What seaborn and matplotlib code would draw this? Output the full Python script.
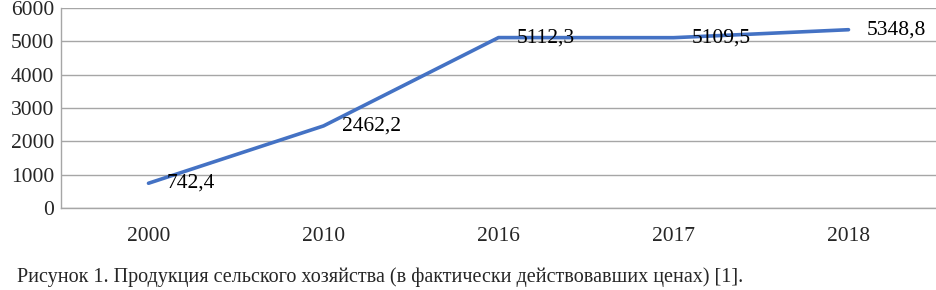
import pandas as pd
import matplotlib.pyplot as plt
import seaborn as sns

# data
years = ['2000', '2010', '2016', '2017', '2018']
values = [742.4, 2462.2, 5112.3, 5109.5, 5348.8]
labels = ['742,4', '2462,2', '5112,3', '5109,5', '5348,8']
caption = 'Рисунок 1. Продукция сельского хозяйства (в фактически действовавших ценах) [1].'

df = pd.DataFrame({'year': years, 'value': values})

sns.set_style('white')
plt.rcParams['font.family'] = ['Liberation Serif', 'DejaVu Serif']

fig = plt.figure(figsize=(9.37, 2.9), dpi=100)
ax = fig.add_axes([61 / 937, 82 / 290, 875 / 937, 200 / 290])

sns.lineplot(data=df, x='year', y='value', ax=ax, color='#4472C4', linewidth=2.6, sort=False)

# data labels to the right of each point
for i, (v, t) in enumerate(zip(values, labels)):
    ax.annotate(t, (i, v), xytext=(13, 0), textcoords='offset points',
                ha='left', va='center', fontsize=15.5, color='black')

ax.set_xlim(-0.5, len(years) - 0.5)
ax.set_ylim(0, 6000)
ax.set_yticks(range(0, 6001, 1000))
ax.yaxis.grid(True, color='#a6a6a6', linewidth=1)
ax.set_axisbelow(True)

ax.set_xticks(range(len(years)))
ax.set_xticks([i - 0.5 for i in range(len(years) + 1)], minor=True)
ax.tick_params(axis='x', which='major', length=0, pad=14, labelsize=15.5)
ax.tick_params(axis='x', which='minor', length=6, color='#a6a6a6', width=1)
ax.tick_params(axis='y', length=0, pad=5, labelsize=15.5)

for s in ['top', 'right']:
    ax.spines[s].set_visible(False)
for s in ['left', 'bottom']:
    ax.spines[s].set_color('#a6a6a6')
    ax.spines[s].set_linewidth(1)

ax.set_xlabel('')
ax.set_ylabel('')

fig.text(17 / 937, 13 / 290, caption, ha='left', va='center', fontsize=14.5)

fig.savefig('out.png', dpi=100)
